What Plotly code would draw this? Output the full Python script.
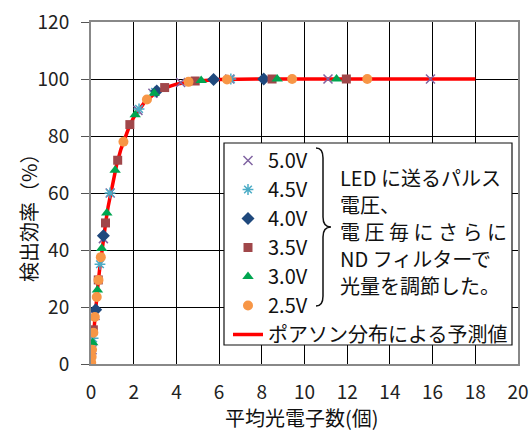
import plotly.graph_objects as go

# ---- data ----
labels = ["5.0V", "4.5V", "4.0V", "3.5V", "3.0V", "2.5V"]
x50 = [0.05, 0.19, 0.58, 0.9, 2.2, 2.9, 4.2, 6.5, 11.1, 15.9]
y50 = [5, 17, 44, 60, 89, 95, 98.8, 100, 100, 100]
x45 = [0.1, 0.42, 0.89, 2.25, 3.0, 6.55]
y45 = [9, 35, 60, 89.5, 95.5, 100]
x40 = [0.22, 0.58, 3.08, 5.74, 8.09]
y40 = [19, 45, 95.8, 99.8, 100]
x35 = [0.11, 0.34, 0.68, 1.25, 1.82, 3.45, 4.88, 8.48, 11.96]
y35 = [12, 29.5, 49.5, 71.5, 84, 97, 99.3, 100, 100]
x30 = [0.08, 0.3, 0.5, 0.74, 1.13, 2.07, 2.96, 5.16, 8.72, 11.5]
y30 = [7.5, 26, 40.5, 53, 68, 87.5, 95, 99.5, 100, 100]
x25 = [0.01, 0.03, 0.05, 0.11, 0.18, 0.27, 0.35, 0.46, 1.52, 2.62, 4.57, 6.37, 9.42, 12.94]
y25 = [0.5, 2.5, 5, 11, 16.5, 23.5, 29.5, 37.5, 78, 92.8, 99, 99.8, 100, 100]

poisson_x = [0, 0.1, 0.2, 0.3, 0.4, 0.5, 0.6, 0.7, 0.8, 1.0, 1.2, 1.4, 1.6, 1.8, 2.0,
             2.5, 3.0, 3.5, 4.0, 5.0, 6.0, 8.0, 18.0]
poisson_y = [0, 9.5, 18.1, 25.9, 33.0, 39.3, 45.1, 50.3, 55.1, 63.2, 69.9, 75.3, 79.8,
             83.5, 86.5, 91.8, 95.0, 97.0, 98.2, 99.3, 99.8, 100, 100]
line_label = "ポアソン分布による予測値"

x_title = "平均光電子数(個)"
y_title = "検出効率（%）"
note_lines = ["LED に送るパルス", "電圧、", "電 圧 毎 に さ ら に", "ND フィルターで", "光量を調節した。"]

FONT = "Noto Sans CJK JP"

# plot-area geometry (pixels)
W_FIG, H_FIG = 530, 433
L, R, T, B = 91, 518, 22, 364
PW, PH = R - L, B - T


def px(x):
    return (x - L) / PW


def py(y):
    return (B - y) / PH


fig = go.Figure()

fig.add_trace(go.Scatter(x=poisson_x, y=poisson_y, mode="lines", name=line_label,
                         line=dict(color="#FF0000", width=3.5), legendrank=7))

series = [
    (x50, y50, dict(symbol="x-thin", size=9, color="#8064A2",
                    line=dict(color="#8064A2", width=1.5))),
    (x45, y45, dict(symbol="asterisk", size=9, color="#4BACC6",
                    line=dict(color="#4BACC6", width=1.5))),
    (x40, y40, dict(symbol="diamond", size=10, color="#1F497D")),
    (x35, y35, dict(symbol="square", size=9, color="#A0474A")),
    (x30, y30, dict(symbol="triangle-up", size=10, color="#00A550")),
    (x25, y25, dict(symbol="circle", size=10, color="#F79646")),
]
for i, (xs, ys, mk) in enumerate(series):
    fig.add_trace(go.Scatter(x=xs, y=ys, mode="markers", name=labels[i],
                             marker=mk, legendrank=i + 1))

shapes = [
    # legend box
    dict(type="rect", xref="paper", yref="paper", x0=px(224), x1=px(512),
         y0=py(345), y1=py(143), fillcolor="white",
         line=dict(color="#111", width=1.2), layer="above"),
]


def P(x, y):
    return f"{px(x):.5f},{py(y):.5f}"


brace = ("M " + P(316, 148) + " Q " + P(323, 148) + " " + P(323, 158) +
         " L " + P(323, 217) + " Q " + P(323, 227) + " " + P(331, 227) +
         " Q " + P(323, 227) + " " + P(323, 237) +
         " L " + P(323, 296) + " Q " + P(323, 306) + " " + P(316, 306))
shapes.append(dict(type="path", xref="paper", yref="paper", path=brace,
                   line=dict(color="#111", width=1.5), layer="above"))

annotations = [
    dict(xref="paper", yref="paper", x=px(28), y=py(213), xanchor="center", yanchor="middle",
         text=y_title, textangle=-90, showarrow=False,
         font=dict(family=FONT, size=20, color="#111")),
    dict(xref="paper", yref="paper", x=px(302), y=py(417), xanchor="center", yanchor="middle",
         text=x_title, showarrow=False,
         font=dict(family=FONT, size=20, color="#111")),
]
for k, line in enumerate(note_lines):
    annotations.append(dict(xref="paper", yref="paper", x=px(338), y=py(177 + 27 * k),
                            xanchor="left", yanchor="middle", text=line, showarrow=False,
                            align="left", font=dict(family=FONT, size=20, color="#111")))

fig.update_layout(
    width=W_FIG, height=H_FIG,
    margin=dict(l=L, r=W_FIG - R, t=T, b=H_FIG - B, pad=0, autoexpand=False),
    paper_bgcolor="white", plot_bgcolor="white",
    font=dict(family=FONT, size=19, color="#222"),
    showlegend=True,
    legend=dict(x=px(228), y=py(141), xanchor="left", yanchor="top",
                bgcolor="rgba(0,0,0,0)", borderwidth=0, traceorder="normal",
                font=dict(family=FONT, size=20, color="#111"), itemwidth=30,
                tracegroupgap=0),
    shapes=shapes,
    annotations=annotations,
    xaxis=dict(range=[0, 20], dtick=2, tick0=0, showgrid=True, gridcolor="#000",
               gridwidth=1.3, showline=True, linecolor="#888", linewidth=2, mirror=True,
               zeroline=False, ticks="", ticklabelstandoff=10, automargin=False,
               tickfont=dict(family=FONT, size=19, color="#222")),
    yaxis=dict(range=[0, 120], dtick=20, tick0=0, showgrid=True, gridcolor="#000",
               gridwidth=1.3, showline=True, linecolor="#888", linewidth=2, mirror=True,
               zeroline=False, ticks="outside", ticklen=8, tickcolor="#555", tickwidth=1.3,
               ticklabelstandoff=8, automargin=False,
               tickfont=dict(family=FONT, size=19, color="#222")),
)

fig.write_html("out.html", config={"displayModeBar": False},
               post_script="document.body.style.margin='0';document.body.style.overflow='hidden';")
